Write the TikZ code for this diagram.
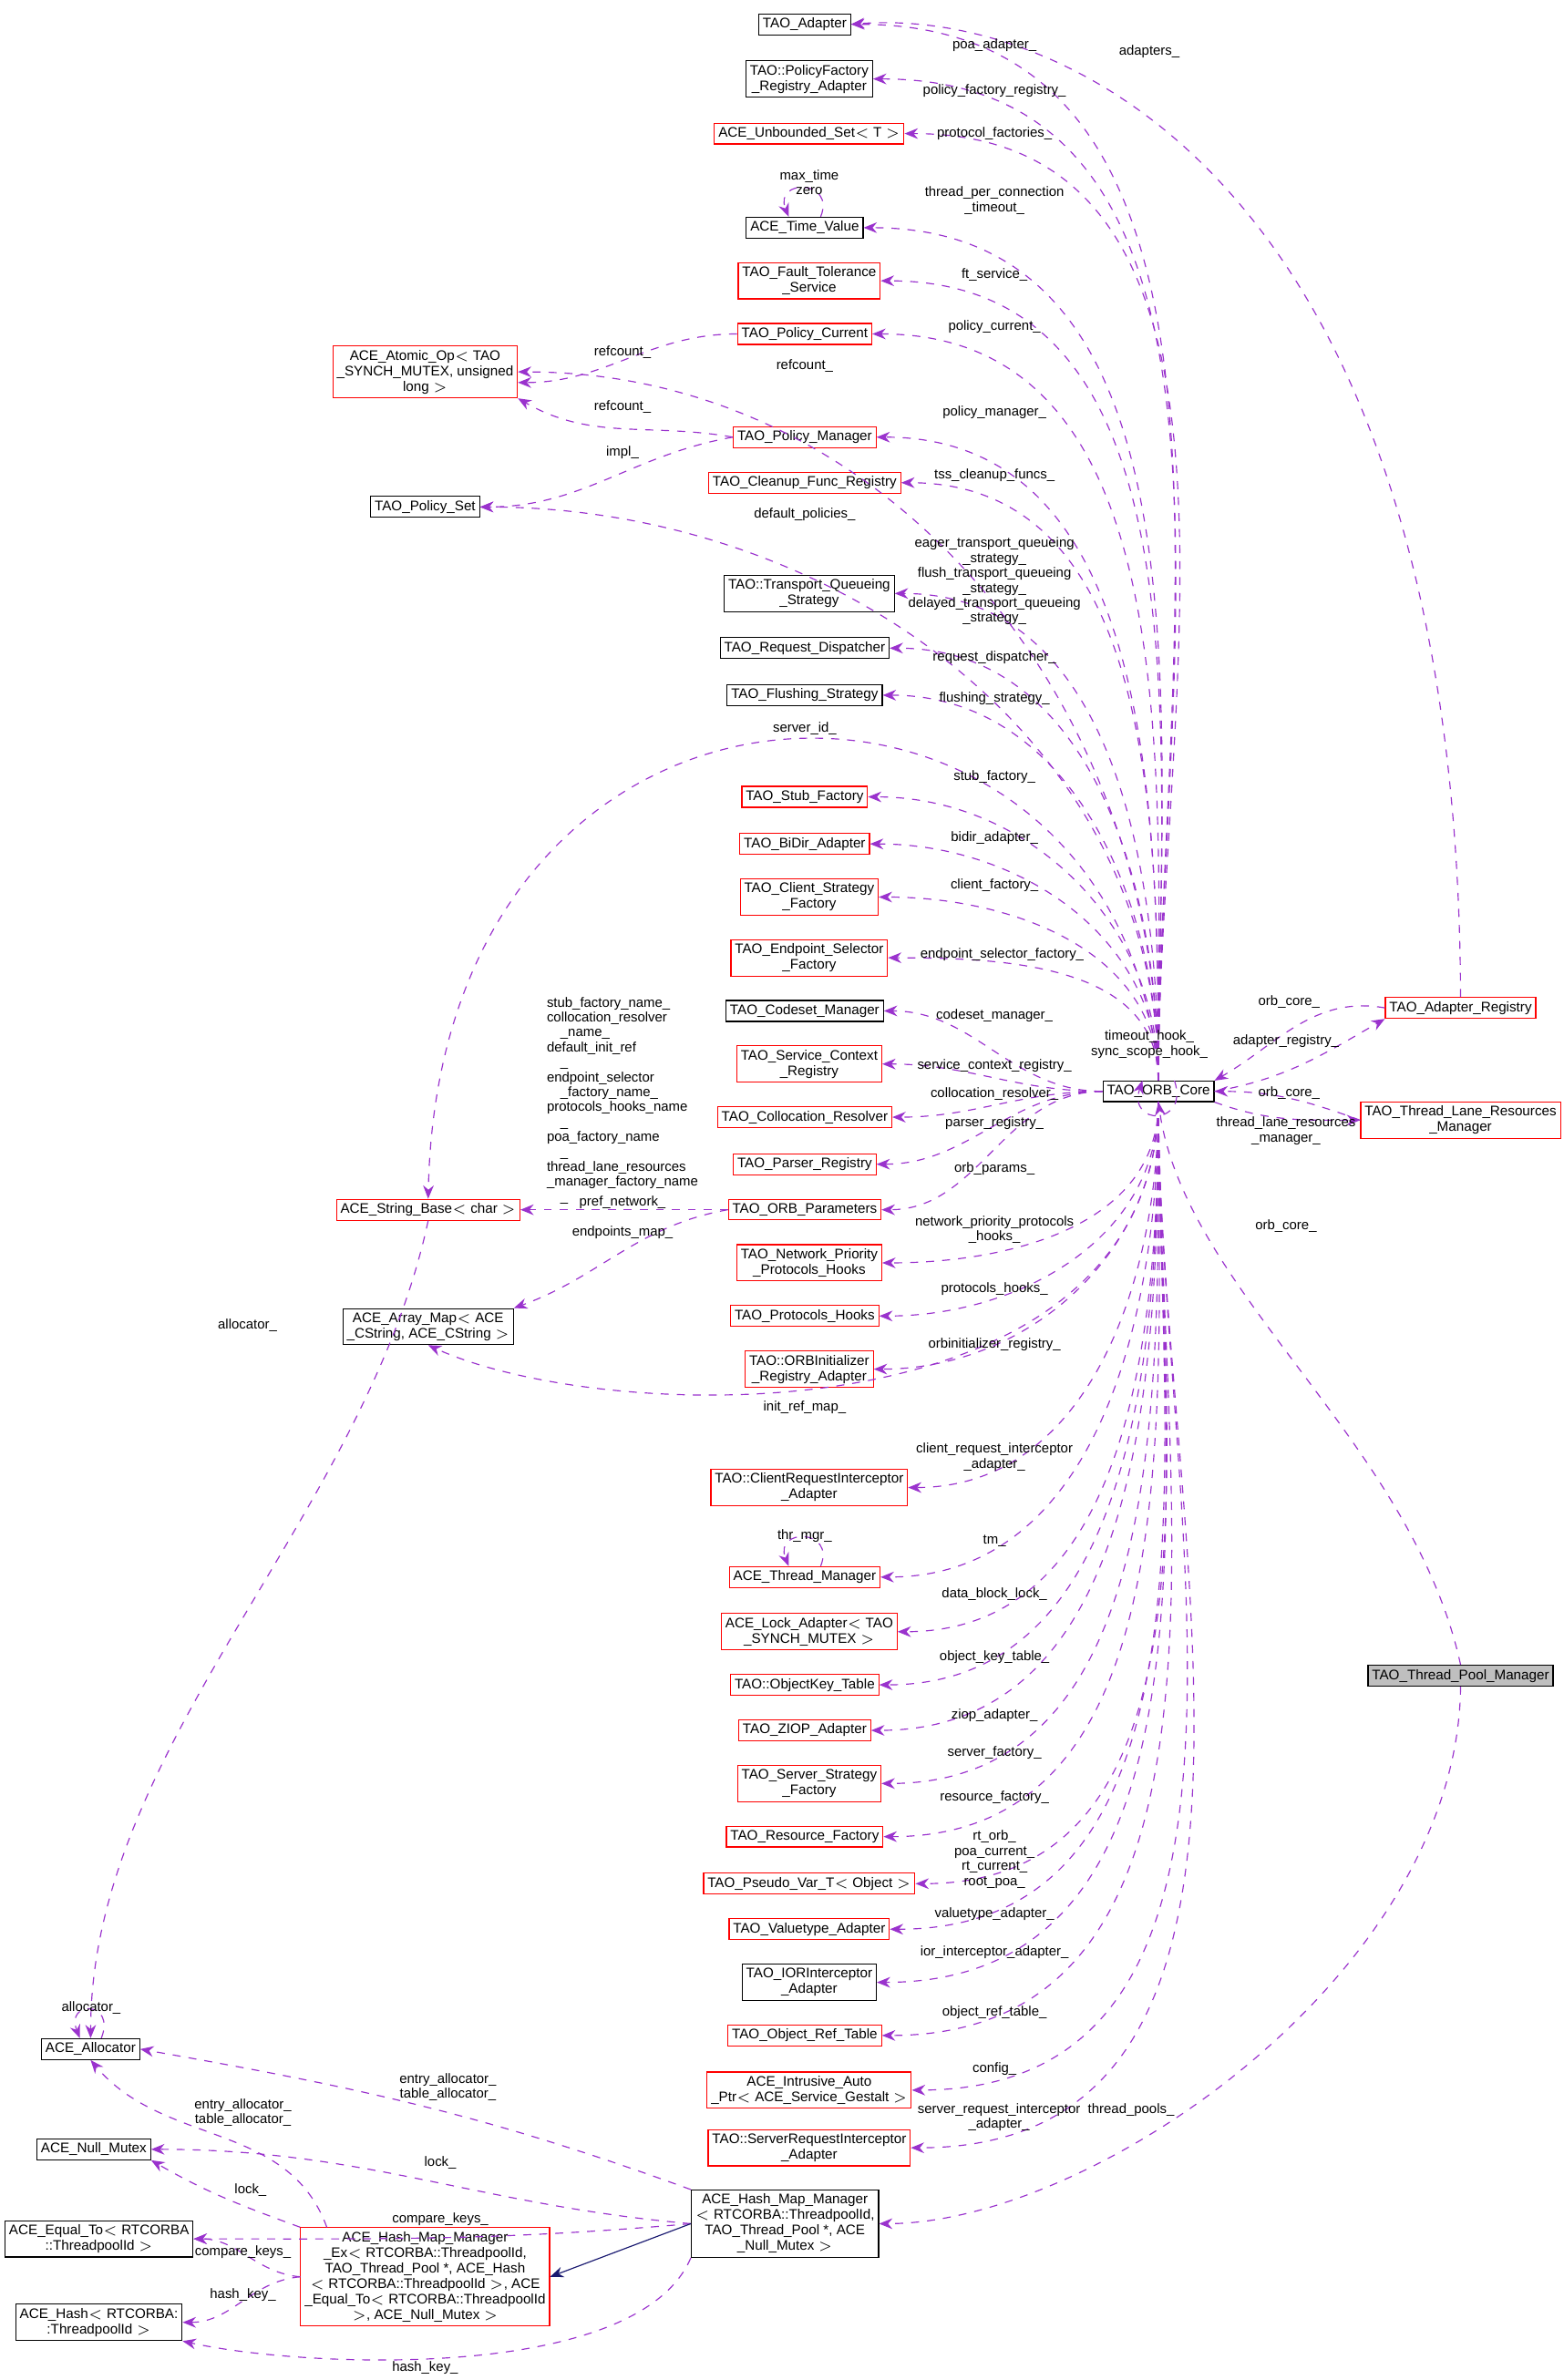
\documentclass[tikz,border=0pt]{standalone}
\usepackage{fontspec}
\setmainfont{Liberation Sans}
\usetikzlibrary{arrows.meta}
\definecolor{dep}{HTML}{9A32CD}
\definecolor{inh}{HTML}{191970}
\tikzset{
  box/.style={draw=black, fill=white, inner sep=1.5pt, align=center, font=\fontsize{5.2}{5.8}\selectfont},
  rbox/.style={box, draw=red},
  gbox/.style={box, fill=black!25},
  lbl/.style={inner sep=0pt, align=center, font=\fontsize{5.1}{5.6}\selectfont},
  uses/.style={draw=dep, dashed, -{Stealth[length=5pt,width=4pt]}},
  isa/.style={draw=inh, -{Stealth[length=5pt,width=4pt]}}
}
\begin{document}
\begin{tikzpicture}[x=0.02cm, y=0.02cm]
	\useasboundingbox (0,0) rectangle (1030,-1568);
	% Central class
	\node[box] (core) at (763,-719) {TAO\_ORB\_Core};
	\node[gbox] (tpm) at (962,-1104) {TAO\_Thread\_Pool\_Manager};
	\node[rbox] (adreg) at (962,-664) {TAO\_Adapter\_Registry};
	\node[rbox] (tlrm) at (962,-738) {TAO\_Thread\_Lane\_Resources\\\_Manager};

	% Members of the core
	\node[box] (adapter) at (530,-16) {TAO\_Adapter};
	\node[box] (pfreg) at (533,-52) {TAO::PolicyFactory\\\_Registry\_Adapter};
	\node[rbox] (unbset) at (533,-88) {ACE\_Unbounded\_Set$<$ T $>$};
	\node[box] (timeval) at (530,-150) {ACE\_Time\_Value};
	\node[rbox] (ftserv) at (533,-185) {TAO\_Fault\_Tolerance\\\_Service};
	\node[rbox] (polcur) at (530,-220) {TAO\_Policy\_Current};
	\node[rbox] (polmgr) at (530,-288) {TAO\_Policy\_Manager};
	\node[rbox] (cleanup) at (530,-318) {TAO\_Cleanup\_Func\_Registry};
	\node[box] (tqs) at (533,-391) {TAO::Transport\_Queueing\\\_Strategy};
	\node[box] (reqdisp) at (530,-427) {TAO\_Request\_Dispatcher};
	\node[box] (flush) at (530,-458) {TAO\_Flushing\_Strategy};
	\node[rbox] (stubf) at (530,-525) {TAO\_Stub\_Factory};
	\node[rbox] (bidir) at (530,-556) {TAO\_BiDir\_Adapter};
	\node[rbox] (clientsf) at (533,-591) {TAO\_Client\_Strategy\\\_Factory};
	\node[rbox] (endpsel) at (533,-631) {TAO\_Endpoint\_Selector\\\_Factory};
	\node[box] (codeset) at (530,-666) {TAO\_Codeset\_Manager};
	\node[rbox] (svcctx) at (533,-701) {TAO\_Service\_Context\\\_Registry};
	\node[rbox] (colloc) at (530,-736) {TAO\_Collocation\_Resolver};
	\node[rbox] (parser) at (530,-767) {TAO\_Parser\_Registry};
	\node[rbox] (orbparams) at (530,-797) {TAO\_ORB\_Parameters};
	\node[rbox] (netprio) at (533,-832) {TAO\_Network\_Priority\\\_Protocols\_Hooks};
	\node[rbox] (prothooks) at (530,-867) {TAO\_Protocols\_Hooks};
	\node[rbox] (orbinit) at (533,-902) {TAO::ORBInitializer\\\_Registry\_Adapter};
	\node[rbox] (clientri) at (533,-980) {TAO::ClientRequestInterceptor\\\_Adapter};
	\node[rbox] (thrmgr) at (530,-1039) {ACE\_Thread\_Manager};
	\node[rbox] (lockad) at (533,-1075) {ACE\_Lock\_Adapter$<$ TAO\\\_SYNCH\_MUTEX $>$};
	\node[rbox] (objkey) at (530,-1110) {TAO::ObjectKey\_Table};
	\node[rbox] (ziop) at (530,-1140) {TAO\_ZIOP\_Adapter};
	\node[rbox] (serversf) at (533,-1175) {TAO\_Server\_Strategy\\\_Factory};
	\node[rbox] (resf) at (530,-1210) {TAO\_Resource\_Factory};
	\node[rbox] (pseudo) at (533,-1241) {TAO\_Pseudo\_Var\_T$<$ Object $>$};
	\node[rbox] (valuet) at (533,-1271) {TAO\_Valuetype\_Adapter};
	\node[box] (iorint) at (533,-1306) {TAO\_IORInterceptor\\\_Adapter};
	\node[rbox] (objref) at (530,-1341) {TAO\_Object\_Ref\_Table};
	\node[rbox] (intrusive) at (533,-1377) {ACE\_Intrusive\_Auto\\\_Ptr$<$ ACE\_Service\_Gestalt $>$};
	\node[rbox] (serverri) at (533,-1415) {TAO::ServerRequestInterceptor\\\_Adapter};
	\node[box] (hashmgr) at (517,-1465) {ACE\_Hash\_Map\_Manager\\$<$ RTCORBA::ThreadpoolId,\\TAO\_Thread\_Pool *, ACE\\\_Null\_Mutex $>$};

	% Left side classes
	\node[rbox] (atomic) at (280,-245) {ACE\_Atomic\_Op$<$ TAO\\\_SYNCH\_MUTEX, unsigned\\long $>$};
	\node[box] (polset) at (280,-334) {TAO\_Policy\_Set};
	\node[rbox] (strbase) at (282,-797) {ACE\_String\_Base$<$ char $>$};
	\node[box] (arraymap) at (282,-874) {ACE\_Array\_Map$<$ ACE\\\_CString, ACE\_CString $>$};
	\node[box, anchor=west] (alloc) at (27,-1350) {ACE\_Allocator};
	\node[box, anchor=west] (nullmutex) at (24,-1416) {ACE\_Null\_Mutex};
	\node[box, anchor=west] (equalto) at (3,-1475) {ACE\_Equal\_To$<$ RTCORBA\\::ThreadpoolId $>$};
	\node[box, anchor=west] (hash) at (10,-1530) {ACE\_Hash$<$ RTCORBA:\\:ThreadpoolId $>$};
	\node[rbox] (hashex) at (280,-1500) {ACE\_Hash\_Map\_Manager\\\_Ex$<$ RTCORBA::ThreadpoolId,\\TAO\_Thread\_Pool *, ACE\_Hash\\$<$ RTCORBA::ThreadpoolId $>$, ACE\\\_Equal\_To$<$ RTCORBA::ThreadpoolId\\$>$, ACE\_Null\_Mutex $>$};

	% Core members above
	\foreach \t in {adapter,pfreg,unbset,timeval,ftserv,polcur,atomic,polmgr,cleanup,polset,tqs,reqdisp,flush,stubf,bidir,clientsf,endpsel}
		\draw[uses] (core.north) to[out=90,in=0] (\t.east);
	% Core members beside
	\foreach \t in {codeset,svcctx,colloc,parser,orbparams}
		\draw[uses] (core.west) to[out=180,in=0] (\t.east);
	% Core members below
	\foreach \t in {netprio,prothooks,orbinit,clientri,thrmgr,lockad,objkey,ziop,serversf,resf,pseudo,valuet,iorint,objref,intrusive,serverri}
		\draw[uses] (core.south) to[out=-90,in=0] (\t.east);
	\draw[uses] (core.north) .. controls (740,-400) and (290,-400) .. (strbase.north);
	\draw[uses] (core.south) .. controls (760,-950) and (400,-940) .. (arraymap.south);
	\draw[uses] ([xshift=6pt]core.north) .. controls +(10,-30) and +(-10,-30) .. ([xshift=-6pt]core.north);

	% Other relations
	\draw[uses] (core.east) to[out=10,in=-150] (adreg.south west);
	\draw[uses] (adreg.west) to[out=170,in=30] (core.north east);
	\draw[uses] (adreg.north) .. controls (960,-120) and (700,-5) .. (adapter.east);
	\draw[uses] (tlrm.west) to[out=160,in=0] (core.east);
	\draw[uses] (core.south east) to[out=-20,in=180] (tlrm.west);
	\draw[uses] (tpm.north) .. controls (930,-950) and (780,-850) .. (core.south);
	\draw[uses] (tpm.south) .. controls (960,-1300) and (720,-1465) .. (hashmgr.east);
	\draw[uses] ([xshift=6pt]timeval.north) .. controls +(10,25) and +(-10,25) .. ([xshift=-6pt]timeval.north);
	\draw[uses] ([xshift=6pt]thrmgr.north) .. controls +(10,25) and +(-10,25) .. ([xshift=-6pt]thrmgr.north);
	\draw[uses] ([xshift=4pt]alloc.north) .. controls +(10,25) and +(-10,25) .. ([xshift=-4pt]alloc.north);
	\draw[uses] (polcur.west) to[out=180,in=0] ([yshift=-4pt]atomic.east);
	\draw[uses] (polmgr.west) to[out=170,in=-30] (atomic.south east);
	\draw[uses] (polmgr.west) to[out=190,in=0] (polset.east);
	\draw[uses] (orbparams.west) -- (strbase.east);
	\draw[uses] (orbparams.west) to[out=190,in=20] (arraymap.north east);
	\draw[uses] (strbase.south) .. controls (240,-1000) and (60,-1150) .. (alloc.north);
	\draw[uses] (hashmgr.north west) to[out=160,in=-10] (alloc.east);
	\draw[uses] (hashmgr.west) to[out=175,in=0] (nullmutex.east);
	\draw[uses] (hashmgr.west) to[out=185,in=0] (equalto.east);
	\draw[uses] (hashmgr.south west) .. controls (420,-1570) and (200,-1560) .. (hash.south east);
	\draw[isa] (hashmgr.west) -- (hashex.east);
	\draw[uses] ([xshift=10pt]hashex.north west) to[out=110,in=-50] (alloc.south);
	\draw[uses] (hashex.north west) to[out=160,in=-30] (nullmutex.south east);
	\draw[uses] (hashex.west) to[out=175,in=0] (equalto.east);
	\draw[uses] (hashex.west) to[out=185,in=0] (hash.east);

	% Labels
	\node[lbl] at (655,-30) {poa\_adapter\_};
	\node[lbl] at (655,-60) {policy\_factory\_registry\_};
	\node[lbl] at (655,-88) {protocol\_factories\_};
	\node[lbl] at (655,-132) {thread\_per\_connection\\\_timeout\_};
	\node[lbl] at (655,-181) {ft\_service\_};
	\node[lbl] at (655,-215) {policy\_current\_};
	\node[lbl] at (530,-241) {refcount\_};
	\node[lbl] at (655,-272) {policy\_manager\_};
	\node[lbl] at (655,-313) {tss\_cleanup\_funcs\_};
	\node[lbl] at (530,-339) {default\_policies\_};
	\node[lbl] at (655,-383) {eager\_transport\_queueing\\\_strategy\_\\flush\_transport\_queueing\\\_strategy\_\\delayed\_transport\_queueing\\\_strategy\_};
	\node[lbl] at (655,-433) {request\_dispatcher\_};
	\node[lbl] at (655,-460) {flushing\_strategy\_};
	\node[lbl] at (530,-480) {server\_id\_};
	\node[lbl] at (655,-512) {stub\_factory\_};
	\node[lbl] at (655,-552) {bidir\_adapter\_};
	\node[lbl] at (655,-583) {client\_factory\_};
	\node[lbl] at (660,-629) {endpoint\_selector\_factory\_};
	\node[lbl] at (655,-669) {codeset\_manager\_};
	\node[lbl] at (655,-702) {service\_context\_registry\_};
	\node[lbl] at (655,-721) {collocation\_resolver\_};
	\node[lbl] at (655,-740) {parser\_registry\_};
	\node[lbl] at (655,-770) {orb\_params\_};
	\node[lbl] at (655,-810) {network\_priority\_protocols\\\_hooks\_};
	\node[lbl] at (655,-849) {protocols\_hooks\_};
	\node[lbl] at (655,-886) {orbinitializer\_registry\_};
	\node[lbl] at (530,-927) {init\_ref\_map\_};
	\node[lbl] at (655,-960) {client\_request\_interceptor\\\_adapter\_};
	\node[lbl] at (655,-1015) {tm\_};
	\node[lbl] at (655,-1050) {data\_block\_lock\_};
	\node[lbl] at (655,-1092) {object\_key\_table\_};
	\node[lbl] at (655,-1130) {ziop\_adapter\_};
	\node[lbl] at (655,-1155) {server\_factory\_};
	\node[lbl] at (655,-1184) {resource\_factory\_};
	\node[lbl] at (655,-1225) {rt\_orb\_\\poa\_current\_\\rt\_current\_\\root\_poa\_};
	\node[lbl] at (655,-1261) {valuetype\_adapter\_};
	\node[lbl] at (655,-1286) {ior\_interceptor\_adapter\_};
	\node[lbl] at (655,-1326) {object\_ref\_table\_};
	\node[lbl] at (655,-1363) {config\_};
	\node[lbl] at (658,-1395) {server\_request\_interceptor\\\_adapter\_};
	\node[lbl] at (847,-686) {adapter\_registry\_};
	\node[lbl] at (849,-660) {orb\_core\_};
	\node[lbl] at (757,-34) {adapters\_};
	\node[lbl] at (849,-720) {orb\_core\_};
	\node[lbl] at (847,-745) {thread\_lane\_resources\\\_manager\_};
	\node[lbl] at (757,-688) {timeout\_hook\_\\sync\_scope\_hook\_};
	\node[lbl] at (847,-808) {orb\_core\_};
	\node[lbl] at (745,-1390) {thread\_pools\_};
	\node[lbl] at (533,-120) {max\_time\\zero};
	\node[lbl] at (530,-1012) {thr\_mgr\_};
	\node[lbl] at (60,-1323) {allocator\_};
	\node[lbl, align=left] at (410,-725) {stub\_factory\_name\_\\collocation\_resolver\\\quad\_name\_\\default\_init\_ref\\\quad\_\\endpoint\_selector\\\quad\_factory\_name\_\\protocols\_hooks\_name\\\quad\_\\poa\_factory\_name\\\quad\_\\thread\_lane\_resources\\\_manager\_factory\_name\\\quad\_};
	\node[lbl] at (410,-792) {pref\_network\_};
	\node[lbl] at (410,-812) {endpoints\_map\_};
	\node[lbl] at (410,-232) {refcount\_};
	\node[lbl] at (410,-268) {refcount\_};
	\node[lbl] at (410,-298) {impl\_};
	\node[lbl] at (163,-873) {allocator\_};
	\node[lbl] at (295,-1375) {entry\_allocator\_\\table\_allocator\_};
	\node[lbl] at (290,-1425) {lock\_};
	\node[lbl] at (290,-1462) {compare\_keys\_};
	\node[lbl] at (280,-1560) {hash\_key\_};
	\node[lbl] at (160,-1392) {entry\_allocator\_\\table\_allocator\_};
	\node[lbl] at (165,-1443) {lock\_};
	\node[lbl] at (160,-1484) {compare\_keys\_};
	\node[lbl] at (160,-1512) {hash\_key\_};
\end{tikzpicture}
\end{document}
